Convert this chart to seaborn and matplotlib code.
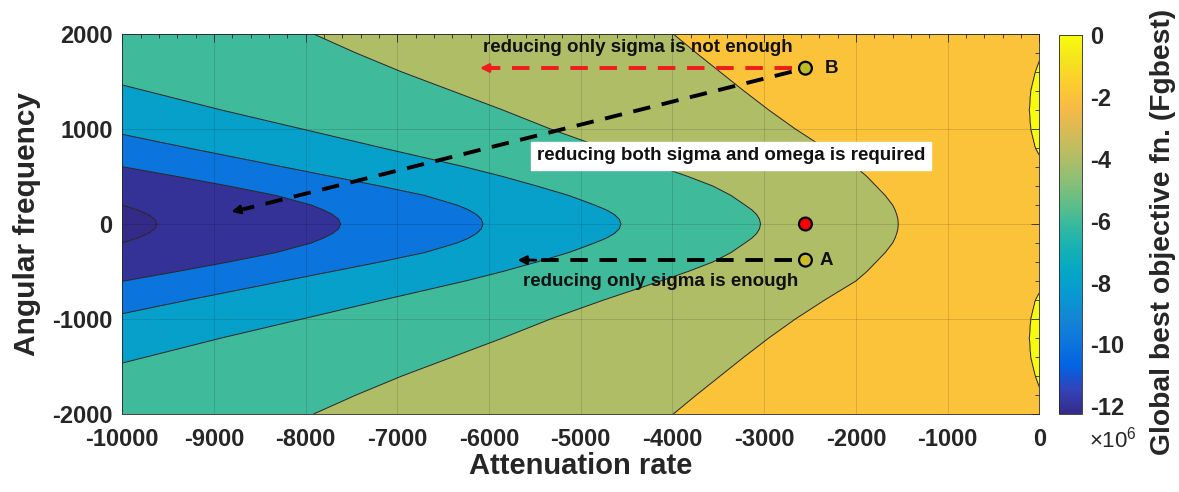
import numpy as np
import pandas as pd
import matplotlib
matplotlib.use("Agg")
import matplotlib.pyplot as plt
import seaborn as sns
from matplotlib.colors import LinearSegmentedColormap, Normalize
from matplotlib.cm import ScalarMappable
from matplotlib.ticker import MultipleLocator

# --- Data ---
# omega rows of the upper half (the map is mirrored about omega = 0)
omega_rows = [0, 50, 100, 150, 200, 300, 400, 500, 600, 800, 1000, 1200, 1400, 1600, 1800, 2000]

# attenuation rate where each Fgbest level (x1e6) is crossed, one value per omega row
edge_m12 = [-9618, -9642, -9713, -9833, -10000, -10450, -10950, -11500, -12050, -13200, -14300, -15400, -16500, -17600, -18700, -19800]
edge_m10 = [-7618, -7640, -7705, -7810, -7940, -8320, -8840, -9400, -9980, -11100, -12200, -13300, -14400, -15500, -16600, -17700]
edge_m8 = [-6066, -6084, -6137, -6226, -6350, -6700, -7190, -7716, -8240, -9280, -10280, -11300, -12300, -13300, -14300, -15300]
edge_m6 = [-4562, -4580, -4634, -4724, -4850, -5130, -5480, -5850, -6260, -7160, -8040, -8920, -9740, -10560, -11380, -12200]
edge_m4 = [-3040, -3051, -3082, -3136, -3210, -3360, -3560, -3830, -4130, -4750, -5330, -5850, -6400, -6950, -7450, -7914]
edge_m2 = [-1538, -1542, -1555, -1574, -1600, -1680, -1780, -1880, -2000, -2340, -2660, -2950, -3220, -3480, -3740, -3991]
edge_0 = [400, 398, 390, 381, 370, 330, 270, 190, 70, -45, -95, -110, -95, -45, 30, 110]

levels = [-12, -10, -8, -6, -4, -2, 0]
f_min, f_max = -12.25, 0.5          # data range (x1e6)
pad_lo, pad_hi = -25000, 2000       # sigma where the range ends are reached

# marked design points
pt_sigma = [-2550, -2550, -2550]
pt_omega = [0, -380, 1640]
pt_kind = ["current", "A", "B"]

# --- MATLAB parula colormap ---
parula_pts = [
    (0.2081, 0.1663, 0.5292), (0.1959, 0.2645, 0.7279), (0.0117, 0.3875, 0.8820),
    (0.0498, 0.4586, 0.8641), (0.0793, 0.5200, 0.8312), (0.0343, 0.5966, 0.8199),
    (0.0228, 0.6535, 0.7768), (0.0843, 0.6928, 0.7062), (0.2178, 0.7250, 0.6193),
    (0.3953, 0.7459, 0.5244), (0.5709, 0.7485, 0.4494), (0.7184, 0.7411, 0.3905),
    (0.8507, 0.7299, 0.3360), (0.9739, 0.7314, 0.2666), (0.9880, 0.8066, 0.1794),
    (0.9589, 0.8949, 0.1132), (0.9763, 0.9831, 0.0538)]
parula = LinearSegmentedColormap.from_list("parula", parula_pts)

# --- Build the field from the level edges ---
sigma = np.linspace(-10000, 0, 1001)
omega_half = np.linspace(0, 2000, 401)
edges = [np.interp(omega_half, omega_rows, e)
         for e in (edge_m12, edge_m10, edge_m8, edge_m6, edge_m4, edge_m2, edge_0)]
edges = np.array(edges)
half = []
for j in range(len(omega_half)):
    xp = [pad_lo] + list(edges[:, j]) + [pad_hi]
    fp = [f_min] + levels + [f_max]
    half.append(np.interp(sigma, xp, fp))
half = np.array(half)
F = np.vstack([half[:0:-1], half])
omega = np.concatenate([-omega_half[:0:-1], omega_half])
S, W = np.meshgrid(sigma, omega)

# --- Style ---
sns.set_style("white")
plt.rcParams["font.family"] = ["Liberation Sans", "DejaVu Sans"]
plt.rcParams["axes.unicode_minus"] = False
plt.rcParams["mathtext.fontset"] = "custom"
plt.rcParams["mathtext.rm"] = "Liberation Sans"
ink = "#262626"

fig = plt.figure(figsize=(11.79, 4.92), dpi=100)
ax = fig.add_axes([0.1037, 0.1585, 0.7778, 0.7724])

norm = Normalize(vmin=f_min, vmax=0)
fill_levels = [f_min] + levels + [f_max]
band_colors = [parula(norm(min(v, 0))) for v in fill_levels[:-1]]
ax.contourf(S, W, F, levels=fill_levels, colors=band_colors, antialiased=True)
ax.contour(S, W, F, levels=levels, colors="#222222", linewidths=0.7, linestyles="solid")

# --- Annotations ---
dash = dict(lw=2.8, dashes=(4.5, 3), solid_capstyle="butt", dash_capstyle="butt")
head = "-|>,head_length=0.5,head_width=0.25"
ax.plot([-2700, -5980], [1642, 1642], color="#ee1c1c", zorder=4, **dash)
ax.annotate("", xy=(-6100, 1642), xytext=(-5900, 1642),
            arrowprops=dict(arrowstyle=head, color="#ee1c1c", lw=2, shrinkA=0, shrinkB=0), zorder=4)
ax.plot([-2700, -8680], [1603, 155], color="k", zorder=4, **dash)
ax.annotate("", xy=(-8810, 128), xytext=(-8600, 178),
            arrowprops=dict(arrowstyle=head, color="k", lw=2, shrinkA=0, shrinkB=0), zorder=4)
ax.plot([-2700, -5570], [-380, -380], color="k", zorder=4, **dash)
ax.annotate("", xy=(-5690, -380), xytext=(-5490, -380),
            arrowprops=dict(arrowstyle=head, color="k", lw=2, shrinkA=0, shrinkB=0), zorder=4)

pts = pd.DataFrame({"sigma": pt_sigma, "omega": pt_omega, "kind": pt_kind})
sns.scatterplot(data=pts, x="sigma", y="omega", hue="kind",
                palette={"current": "#ff0000", "A": "#cbbd2a", "B": "#bdbb2a"},
                s=85, edgecolor="k", linewidth=1.6, legend=False, zorder=5, ax=ax)

tkw = dict(fontsize=13.5, fontweight="bold", color="#111111", zorder=6)
ax.text(-4374, 1853, "reducing only sigma is not enough", ha="center", va="center", **tkw)
ax.text(-4134, -610, "reducing only sigma is enough", ha="center", va="center", **tkw)
ax.text(-3360, 718, "reducing both sigma and omega is required", ha="center", va="center",
        bbox=dict(facecolor="white", edgecolor="white", pad=4), **tkw)
ax.text(-2340, 1642, "B", ha="left", va="center", **tkw)
ax.text(-2395, -380, "A", ha="left", va="center", **tkw)

# --- Axes ---
ax.set_xlim(-10000, 0)
ax.set_ylim(-2000, 2000)
ax.set_xticks(np.arange(-10000, 1, 1000))
ax.set_yticks(np.arange(-2000, 2001, 1000))
ax.xaxis.set_minor_locator(MultipleLocator(200))
ax.yaxis.set_minor_locator(MultipleLocator(200))
ax.tick_params(which="both", direction="in", top=True, right=True, color=ink, width=0.6)
ax.tick_params(which="major", length=6, labelsize=17, labelcolor=ink)
ax.tick_params(axis="x", which="major", pad=10)
ax.tick_params(axis="y", which="major", pad=7)
ax.tick_params(which="minor", length=3)
for lab in ax.get_xticklabels() + ax.get_yticklabels():
    lab.set_fontweight("bold")
ax.grid(True, which="major", color="k", alpha=0.15, lw=0.6)
ax.set_axisbelow(False)
for sp in ax.spines.values():
    sp.set_color(ink)
    sp.set_linewidth(0.6)
ax.set_xlabel("Attenuation rate", fontsize=21, fontweight="bold", color=ink, labelpad=1)
ax.set_ylabel("Angular frequency", fontsize=21.5, fontweight="bold", color=ink, labelpad=8)

# --- Colorbar ---
cax = fig.add_axes([0.8982, 0.1585, 0.0195, 0.7703])
cb = fig.colorbar(ScalarMappable(norm=norm, cmap=parula), cax=cax)
cb.set_ticks([0, -2, -4, -6, -8, -10, -12])
cb.set_ticklabels(["0", "-2", "-4", "-6", "-8", "-10", "-12"])
cb.outline.set_linewidth(0.6)
cb.outline.set_edgecolor(ink)
cax.tick_params(direction="in", length=3, width=0.6, color=ink, labelsize=17, labelcolor=ink, pad=6)
for lab in cax.get_yticklabels():
    lab.set_fontweight("bold")
fig.text(1163 / 1179, 1 - 232 / 492, "Global best objective fn. (Fgbest)", rotation=90,
         ha="center", va="center", fontsize=20.3, fontweight="bold", color=ink)
fig.text(1113 / 1179, 1 - 440 / 492, r"$\mathregular{\times10^{6}}$", ha="center", va="center",
         fontsize=16, color=ink)

fig.savefig("out.png", dpi=100)
